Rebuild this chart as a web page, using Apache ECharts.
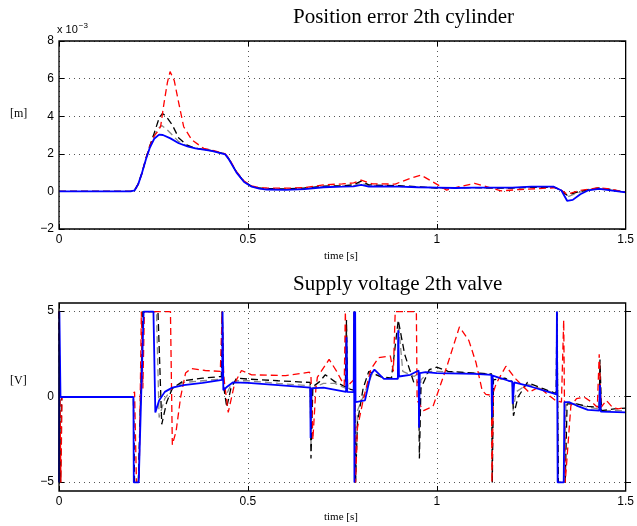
<!DOCTYPE html>
<html>
<head>
<meta charset="utf-8">
<script src="https://cdn.jsdelivr.net/npm/echarts@6/dist/echarts.min.js"></script>
<style>
  html, body { margin: 0; padding: 0; background: #fff; }
  #chart { width: 637px; height: 526px; }
</style>
</head>
<body>
<div id="chart"></div>
<script>
// time axis ticks (s)
const xTicks = [0, 0.5, 1, 1.5];
const posTicks = [-2, 0, 2, 4, 6, 8];   // x 10^-3 m
const voltTicks = [-5, 0, 5];          // V

// position error, values in 1e-3 m, [t, value]
const posBlue = [[0,0],[0.19,0],[0.2,0.05],[0.21,0.4],[0.22,1.0],[0.23,1.7],[0.24,2.3],[0.252,2.8],[0.265,3.02],[0.275,3.0],[0.295,2.82],[0.317,2.56],[0.34,2.4],[0.361,2.29],[0.404,2.15],[0.44,1.97],[0.45,1.7],[0.47,1.0],[0.49,0.5],[0.51,0.25],[0.53,0.15],[0.55,0.1],[0.6,0.08],[0.65,0.12],[0.7,0.22],[0.75,0.25],[0.78,0.27],[0.8,0.35],[0.82,0.26],[0.86,0.27],[0.9,0.25],[0.95,0.22],[1.0,0.2],[1.05,0.18],[1.1,0.2],[1.15,0.2],[1.2,0.2],[1.25,0.25],[1.31,0.25],[1.33,0.05],[1.345,-0.5],[1.36,-0.45],[1.38,-0.15],[1.4,0.05],[1.43,0.13],[1.46,0.05],[1.5,-0.05]];
const posBlack = [[0,0],[0.19,0],[0.2,0.05],[0.21,0.4],[0.22,1.0],[0.23,1.75],[0.24,2.4],[0.252,3.1],[0.265,3.9],[0.274,4.15],[0.285,3.95],[0.3,3.53],[0.317,2.84],[0.338,2.47],[0.36,2.3],[0.404,2.17],[0.44,1.99],[0.45,1.72],[0.47,1.02],[0.49,0.52],[0.51,0.27],[0.53,0.18],[0.55,0.15],[0.6,0.13],[0.65,0.18],[0.7,0.28],[0.75,0.3],[0.78,0.35],[0.8,0.55],[0.82,0.35],[0.86,0.32],[0.9,0.3],[0.95,0.25],[1.0,0.18],[1.05,0.2],[1.1,0.2],[1.15,0.18],[1.2,0.18],[1.25,0.22],[1.31,0.22],[1.33,0.05],[1.345,-0.2],[1.37,-0.05],[1.4,0.1],[1.43,0.18],[1.46,0.1],[1.5,-0.05]];
const posGray = [[0,0],[0.19,0],[0.2,0.05],[0.21,0.4],[0.22,1.0],[0.23,1.72],[0.24,2.35],[0.252,2.95],[0.265,3.4],[0.272,3.5],[0.285,3.3],[0.3,3.0],[0.317,2.65],[0.34,2.4],[0.36,2.3],[0.404,2.16],[0.44,1.98],[0.45,1.71],[0.47,1.01],[0.49,0.51],[0.51,0.26],[0.53,0.16],[0.55,0.12],[0.6,0.11],[0.65,0.15],[0.7,0.25],[0.75,0.28],[0.78,0.3],[0.8,0.45],[0.82,0.3],[0.86,0.3],[0.9,0.27],[0.95,0.23],[1.0,0.19],[1.05,0.19],[1.1,0.2],[1.15,0.19],[1.2,0.19],[1.25,0.23],[1.31,0.23],[1.33,0.05],[1.345,-0.3],[1.37,-0.1],[1.4,0.08],[1.43,0.15],[1.46,0.08],[1.5,-0.05]];
const posRed = [[0,0],[0.19,0],[0.2,0.05],[0.21,0.4],[0.22,1.0],[0.23,1.75],[0.24,2.4],[0.252,2.95],[0.262,3.2],[0.269,3.45],[0.278,4.7],[0.287,5.8],[0.294,6.37],[0.305,5.9],[0.317,4.7],[0.33,3.44],[0.352,2.73],[0.383,2.29],[0.41,2.17],[0.44,2.0],[0.45,1.75],[0.47,1.05],[0.49,0.55],[0.51,0.3],[0.53,0.2],[0.55,0.18],[0.6,0.17],[0.65,0.2],[0.7,0.35],[0.75,0.4],[0.78,0.45],[0.8,0.6],[0.83,0.4],[0.89,0.39],[0.93,0.7],[0.958,0.87],[0.99,0.5],[1.026,0.07],[1.06,0.25],[1.1,0.43],[1.14,0.2],[1.17,0.03],[1.22,0.1],[1.27,0.15],[1.318,0.2],[1.345,-0.15],[1.38,0.05],[1.43,0.2],[1.46,0.12],[1.5,-0.05]];

// supply voltage, V, [t, value]
const voltBlue = [[0,-5],[0.001,5],[0.004,0],[0.197,0],[0.198,-5],[0.211,-5],[0.224,5],[0.25,5],[0.255,-0.9],[0.265,-0.2],[0.28,0.3],[0.3,0.55],[0.33,0.7],[0.38,0.83],[0.432,1.0],[0.433,5],[0.435,0.4],[0.445,0.6],[0.46,0.85],[0.5,0.83],[0.58,0.7],[0.665,0.55],[0.666,-2.4],[0.668,0.5],[0.7,0.55],[0.76,0.3],[0.761,3.5],[0.763,0.3],[0.78,0.28],[0.781,5],[0.782,-5],[0.784,5],[0.785,-0.3],[0.81,-0.2],[0.825,1.3],[0.835,1.6],[0.86,1.06],[0.897,1.06],[0.898,3.9],[0.9,1.2],[0.93,1.3],[0.952,1.55],[0.953,-1.8],[0.955,1.4],[0.97,1.45],[1.0,1.4],[1.1,1.35],[1.145,1.3],[1.146,-1.2],[1.148,1.25],[1.19,0.95],[1.2,0.9],[1.201,-0.4],[1.205,0.85],[1.25,0.6],[1.317,0.15],[1.318,5],[1.32,-5],[1.336,-5],[1.338,-0.3],[1.35,-0.3],[1.37,-0.5],[1.4,-0.75],[1.43,-0.8],[1.432,0.7],[1.434,-0.85],[1.5,-0.9]];
const voltBlack = [[0,5],[0.004,-5],[0.007,0],[0.197,0],[0.2,-5],[0.21,-5],[0.222,5],[0.262,5],[0.272,-1.6],[0.285,-0.3],[0.3,0.5],[0.33,0.95],[0.38,1.1],[0.43,1.2],[0.432,5],[0.436,0.6],[0.444,-0.6],[0.455,0.5],[0.47,1.1],[0.5,1.05],[0.58,0.95],[0.665,0.85],[0.667,-3.6],[0.672,0.6],[0.69,0.9],[0.705,1.3],[0.73,0.9],[0.758,0.6],[0.761,4.5],[0.764,0.5],[0.78,0.4],[0.782,5],[0.785,-5],[0.79,-1.5],[0.805,0.5],[0.82,1.5],[0.85,1.2],[0.88,1.1],[0.898,4.5],[0.915,2.5],[0.94,0.8],[0.952,0.9],[0.954,-3.6],[0.958,0.5],[0.98,1.6],[1.0,1.75],[1.03,1.5],[1.1,1.4],[1.145,1.35],[1.147,-5],[1.15,1.0],[1.18,1.1],[1.2,0.9],[1.203,-1.1],[1.215,0.0],[1.24,0.85],[1.28,0.5],[1.316,0.2],[1.318,5],[1.322,-5],[1.34,-5],[1.345,-0.4],[1.37,-0.4],[1.4,-0.55],[1.43,-0.6],[1.432,2.2],[1.436,-0.8],[1.47,-0.7],[1.5,-0.65]];
const voltGray = [[0,5],[0.003,-5],[0.006,0],[0.197,0],[0.199,-5],[0.21,-5],[0.223,5],[0.258,5],[0.265,-1.2],[0.28,-0.1],[0.3,0.5],[0.33,0.85],[0.38,0.95],[0.43,1.05],[0.432,5],[0.436,0.5],[0.442,0.1],[0.455,0.7],[0.47,0.95],[0.5,0.95],[0.58,0.8],[0.665,0.65],[0.667,-3.0],[0.67,0.5],[0.7,0.8],[0.73,0.8],[0.76,0.5],[0.761,4.0],[0.764,0.5],[0.78,0.5],[0.782,5],[0.785,-5],[0.79,-0.8],[0.81,0.3],[0.83,1.4],[0.86,1.1],[0.897,1.1],[0.899,4.2],[0.91,1.5],[0.94,1.2],[0.952,1.4],[0.954,-2.5],[0.958,1.0],[0.98,1.5],[1.0,1.5],[1.1,1.4],[1.145,1.35],[1.147,-2.5],[1.15,1.2],[1.2,0.9],[1.202,-0.8],[1.21,0.3],[1.24,0.75],[1.28,0.45],[1.317,0.2],[1.319,5],[1.321,-5],[1.338,-5],[1.342,-0.4],[1.37,-0.4],[1.4,-0.6],[1.43,-0.7],[1.432,1.5],[1.435,-0.8],[1.5,-0.8]];
const voltRed = [[0,5],[0.003,5],[0.005,-5],[0.008,0],[0.19,0],[0.2,0.3],[0.205,-5],[0.212,-5],[0.218,5],[0.222,0.5],[0.226,5],[0.295,5],[0.3,-2.8],[0.31,-2.0],[0.322,0],[0.335,1.4],[0.35,1.67],[0.387,1.55],[0.427,1.5],[0.43,1.5],[0.432,5],[0.436,1.2],[0.448,-0.9],[0.465,0.8],[0.483,1.55],[0.51,1.3],[0.6,1.25],[0.663,1.45],[0.667,1.2],[0.672,-2.5],[0.68,0.5],[0.684,1.16],[0.715,2.2],[0.735,1.5],[0.755,0.67],[0.758,5],[0.762,0.6],[0.78,1.0],[0.781,5],[0.785,-5],[0.79,-1.8],[0.805,-0.2],[0.825,1.6],[0.846,2.3],[0.877,2.4],[0.885,1.5],[0.89,5],[0.946,5],[0.948,-0.2],[0.965,-0.8],[0.99,-0.55],[1.026,1.74],[1.06,4.1],[1.085,3.3],[1.104,2.0],[1.12,0.4],[1.13,0.15],[1.145,0.1],[1.146,-5],[1.15,0.3],[1.157,0.77],[1.183,1.8],[1.209,1.06],[1.244,0.28],[1.27,0.57],[1.314,-0.2],[1.33,-0.3],[1.336,4.5],[1.34,-5],[1.345,-5],[1.355,-0.5],[1.37,-0.1],[1.39,0.0],[1.41,-0.3],[1.425,-0.6],[1.43,2.5],[1.435,-0.6],[1.449,-0.2],[1.465,-0.6],[1.48,-0.7],[1.5,-0.6]];

const chart = echarts.init(document.getElementById('chart'));

const tickFont = { fontFamily: 'Liberation Sans', fontSize: 12, color: '#000' };
const dotted = { show: true, lineStyle: { color: '#555', width: 1, type: [1, 4] } };
const tickIn = { show: true, inside: true, length: 5, lineStyle: { color: '#000' } };
const minus = v => String(v).replace('-', '\u2212');

function xAxisPair(grid) {
  return [
    { type: 'value', gridIndex: grid, position: 'bottom', min: 0, max: 1.5, interval: 0.5,
      axisLine: { show: false, onZero: false }, axisTick: tickIn, splitLine: dotted,
      axisLabel: Object.assign({ margin: 5, formatter: v => String(v) }, tickFont) },
    { type: 'value', gridIndex: grid, position: 'top', min: 0, max: 1.5, interval: 0.5,
      axisLine: { show: false, onZero: false }, axisTick: tickIn, splitLine: { show: false },
      axisLabel: { show: false } }
  ];
}

function line(data, color, dash, width, x, y, z) {
  return {
    type: 'line', data: data, xAxisIndex: x, yAxisIndex: y, showSymbol: false, silent: true,
    animation: false, z: z,
    lineStyle: { color: color, width: width, type: dash }
  };
}

chart.setOption({
  backgroundColor: '#fff',
  animation: false,
  grid: [
    { left: 59, top: 41, width: 572, height: 188, show: true, borderColor: '#000', borderWidth: 1.3, z: 6 },
    { left: 59, top: 303, width: 572, height: 188, show: true, borderColor: '#000', borderWidth: 1.3, z: 6 },
    { left: 59, top: 311, width: 572, height: 171, show: false }
  ],
  xAxis: [
    ...xAxisPair(0),
    ...xAxisPair(1),
    { type: 'value', gridIndex: 2, min: 0, max: 1.5, show: false }
  ],
  yAxis: [
    { type: 'value', gridIndex: 0, position: 'left', min: posTicks[0], max: posTicks[posTicks.length - 1], interval: 2,
      axisLine: { show: false, onZero: false }, axisTick: tickIn, splitLine: dotted,
      axisLabel: Object.assign({ margin: 5, formatter: minus }, tickFont) },
    { type: 'value', gridIndex: 0, position: 'right', min: -2, max: 8, interval: 2,
      axisLine: { show: false, onZero: false }, axisTick: tickIn, splitLine: { show: false },
      axisLabel: { show: false } },
    { type: 'value', gridIndex: 1, min: -5.5, max: 5.5, show: false },
    { type: 'value', gridIndex: 2, position: 'left', min: voltTicks[0], max: voltTicks[voltTicks.length - 1], interval: 5,
      axisLine: { show: false, onZero: false }, axisTick: tickIn, splitLine: dotted,
      axisLabel: Object.assign({ margin: 5, formatter: minus }, tickFont) },
    { type: 'value', gridIndex: 2, position: 'right', min: -5, max: 5, interval: 5,
      axisLine: { show: false, onZero: false }, axisTick: tickIn, splitLine: { show: false },
      axisLabel: { show: false } }
  ],
  series: [
    line(posGray, '#8a8a8a', [7, 4], 1.3, 0, 0, 2),
    line(posBlack, '#000', [7, 4], 1.3, 0, 0, 3),
    line(posRed, '#ff0000', [7, 4], 1.3, 0, 0, 4),
    line(posBlue, '#0000ff', 'solid', 1.8, 0, 0, 5),
    line(voltGray, '#8a8a8a', [7, 4], 1.3, 2, 2, 2),
    line(voltBlack, '#000', [7, 4], 1.3, 2, 2, 3),
    line(voltRed, '#ff0000', [7, 4], 1.3, 2, 2, 4),
    line(voltBlue, '#0000ff', 'solid', 1.8, 2, 2, 5)
  ],
  graphic: [
    { type: 'text', left: 293, top: 7, style: { text: 'Position error 2th cylinder', font: '21px "Liberation Serif"', fill: '#000' } },
    { type: 'text', left: 293, top: 274, style: { text: 'Supply voltage 2th valve', font: '21px "Liberation Serif"', fill: '#000' } },
    { type: 'text', left: 57, top: 22, style: {
        text: '{a|x 10}{s|\u22123}',
        rich: { a: { fontFamily: 'Liberation Sans', fontSize: 11, fill: '#000', color: '#000' },
                s: { fontFamily: 'Liberation Sans', fontSize: 8, verticalAlign: 'top', padding: [0, 0, 8, 1], color: '#000' } } } },
    { type: 'text', left: 10, top: 108, style: { text: '[m]', font: '12px "Liberation Serif"', fill: '#000' } },
    { type: 'text', left: 10, top: 375, style: { text: '[V]', font: '12px "Liberation Serif"', fill: '#000' } },
    { type: 'text', left: 324, top: 251, style: { text: 'time [s]', font: '11px "Liberation Serif"', fill: '#000' } },
    { type: 'text', left: 324, top: 512, style: { text: 'time [s]', font: '11px "Liberation Serif"', fill: '#000' } }
  ]
});
</script>
</body>
</html>
